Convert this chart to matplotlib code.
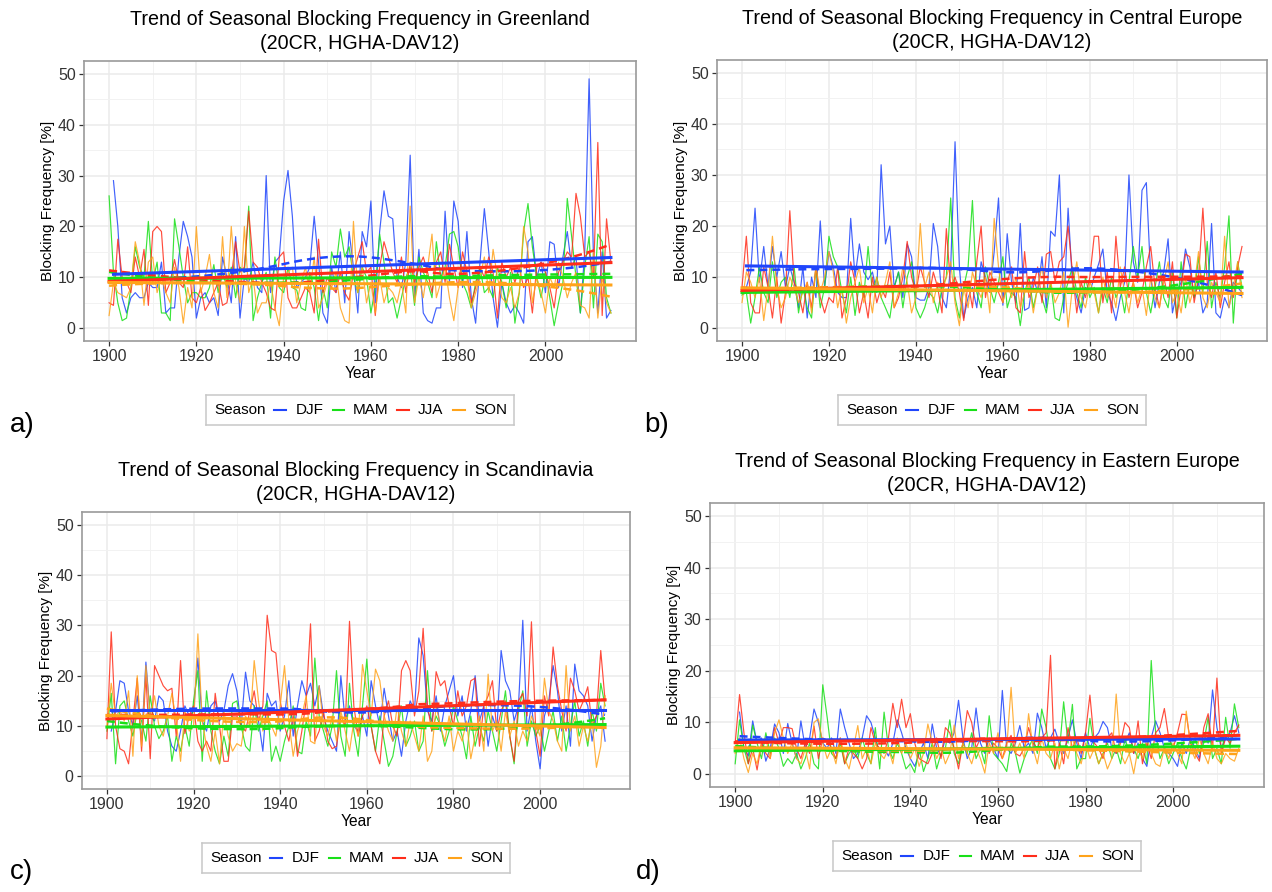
import numpy as np
import matplotlib
matplotlib.use('Agg')
import matplotlib.pyplot as plt

plt.rcParams['font.family'] = ['Liberation Sans', 'DejaVu Sans']

W, H = 1272, 892

years = np.arange(1900, 2016)
years_djf = np.arange(1901, 2016)

# ---- Greenland ----
greenland_djf = [29, 20, 6, 3, 6, 7, 6, 6, 9, 8,
                 8, 13, 3, 4, 4, 14, 21, 18, 14, 2,
                 6, 7, 5, 6, 2.5, 14, 10, 5, 18, 2,
                 10, 9, 13, 8, 7, 30, 7, 13, 14, 25,
                 31, 22, 8, 9, 10, 12, 22, 13, 3, 1,
                 12, 7, 15, 5, 19, 12, 3, 19, 16, 25,
                 5, 19, 27, 22, 21.5, 10, 8, 13, 34, 6,
                 15.5, 3, 1.5, 1, 4, 4, 23, 9, 25, 21,
                 8, 19, 6, 1, 13, 23.5, 15, 6, 0.2, 9,
                 5, 3, 4.5, 3, 1, 17, 18, 10, 13, 7,
                 17, 16.5, 8, 14, 19, 12, 14, 3, 15, 49,
                 14, 3, 15, 2, 3.5]
greenland_mam = [26, 11, 5, 1.5, 2, 8, 16, 12, 10, 21,
                 9, 13, 3, 3, 1.5, 21.5, 16, 10, 5, 7,
                 7, 6, 6, 8, 12.5, 7, 11, 8, 12, 6,
                 12, 11, 24, 1.5, 6, 9, 11, 2, 14, 8,
                 7, 12, 8, 7.5, 4, 3.5, 11, 8, 1.5, 8,
                 4, 15, 12, 19.5, 14, 16, 10, 7, 12, 10,
                 3, 8, 18.5, 13, 5, 6, 2, 6, 10, 12,
                 4.5, 14, 11, 9, 6, 17, 10, 12, 18.5, 19,
                 16, 9, 7, 4, 9, 12, 7, 8, 6, 12,
                 9, 4, 11, 1, 7, 19, 24.5, 16, 10, 6,
                 11, 6, 0.5, 5, 9, 25.5, 18, 10, 3, 12,
                 18, 4, 18.5, 17, 6, 3]
greenland_jja = [5, 4.5, 17.5, 10, 9, 7, 14, 10, 15.5, 4.5,
                 19, 20, 19, 7, 9, 13.5, 9, 8, 16, 6,
                 5, 8, 3.5, 5, 7, 9, 4.5, 5, 10, 17,
                 11, 12, 23, 13, 12, 9, 7, 4, 3.5, 14,
                 15, 6, 4, 4, 6, 8, 7, 3, 17.5, 7,
                 10, 8, 7, 11, 7, 5.5, 11, 14, 17, 11,
                 12, 2.5, 12, 17, 14, 11, 9, 14, 7, 13,
                 9, 12, 14, 11, 7, 13, 15, 9, 16.5, 12,
                 8, 15, 11, 5, 8, 12, 10, 14, 11, 2,
                 13, 10, 12, 9, 12, 8, 10, 3, 12, 13,
                 11, 8, 4, 11, 13, 15, 14, 26.5, 22, 14,
                 15, 10, 36.5, 2.5, 21.5, 13]
greenland_son = [2.5, 9, 7, 6.5, 6, 8, 17, 13, 4.5, 13,
                 14, 7, 10, 7, 5, 12, 8, 1, 8, 4,
                 20, 7, 10, 14.5, 7, 4, 18, 6, 20, 9,
                 5, 20, 7, 10, 3, 5, 5, 9, 4, 0.5,
                 10, 11, 12, 5, 9, 12, 7, 14, 4, 6,
                 9, 8, 11, 4, 1.5, 1, 21, 7, 12, 5,
                 9, 3, 10, 5, 8, 7, 5, 9, 3, 24,
                 5, 10, 6, 12, 18.5, 6, 9, 12, 6, 1.5,
                 8, 12, 10, 4, 7, 10, 14, 7, 15.5, 10,
                 6, 5, 8, 4, 7, 20, 15, 5, 10, 7,
                 3, 10, 8, 13, 10, 6, 9, 11, 4.5, 4,
                 2, 15, 2, 10, 5, 3]

# ---- Central Europe ----
central_djf = [8, 11, 23.5, 9, 16, 8, 16, 10, 15, 8,
               12, 9, 4, 12, 2, 10, 6, 21, 8, 15,
               12, 7, 6, 6, 21.5, 10, 16.5, 11, 9.5, 11,
               7, 32, 16.5, 20, 8, 11, 6, 16.5, 14, 6,
               5.5, 5.5, 8, 20.5, 16, 6, 4, 12, 36.5, 12,
               2, 6, 8, 4, 13, 10, 7, 15, 25.5, 4.5,
               18.5, 9, 5, 20.5, 3.5, 4, 10, 7, 14, 4,
               19, 18, 30, 3, 23.5, 9, 6, 3, 8, 7,
               10, 12.5, 15.5, 7, 5, 1.5, 6, 9, 30, 13,
               9, 27, 28.5, 10, 4, 9, 11, 17.5, 3, 7,
               9, 15.5, 12, 6, 9, 3, 5, 20.5, 3, 2,
               6, 4, 9, 8, 7]
central_mam = [6.5, 7, 1, 6, 12, 7, 5, 13, 6, 9,
               10, 6, 12, 3, 8, 4, 2, 12, 4, 8,
               18, 14, 12, 7, 3, 10, 2.5, 9, 6, 16,
               7, 10, 6, 4, 2, 8, 11, 4, 10, 13,
               4, 2, 4, 7, 6, 3, 8, 10, 25.5, 6,
               2, 8, 12, 25, 7, 4, 12, 8, 5, 9,
               14, 4, 7, 6, 0.5, 7, 10, 4, 8, 6,
               3, 9, 2, 1.5, 6, 9, 12, 7, 4, 10,
               6, 8, 3, 8, 5, 10, 6, 8, 3, 9,
               16, 10, 16, 7, 3, 8, 13, 6, 4, 11,
               2, 13, 4, 9, 6, 14, 7, 17, 4, 9,
               6, 12, 22, 1, 13, 8]
central_jja = [8, 18, 5, 3, 3, 12, 8, 2, 10, 1,
               7, 23, 9, 7, 3, 9, 4, 12, 6, 3,
               6, 5, 12, 2, 6, 13, 9, 3, 7, 2,
               10, 5, 8, 6, 11, 4, 6, 10, 17, 10,
               7, 12, 9, 6, 11, 8, 3, 19.5, 8, 10,
               7, 1.5, 9, 4, 13, 20, 6, 11, 9, 7,
               5, 9, 12, 4, 3, 15, 6, 8, 12, 5,
               14.5, 15, 9, 13, 14, 20, 11, 3, 9, 6,
               10, 18, 18, 5, 11, 3, 18, 8, 12, 6,
               9, 4, 7, 12, 16, 8, 4, 10, 6, 13,
               2, 8, 14.5, 14, 5, 10, 23.5, 9, 6, 11,
               4, 9, 13, 6, 12, 16]
central_son = [5, 11, 9, 6, 10, 1.5, 8, 18, 8, 4,
               6, 10, 8, 5, 7, 9, 3, 12, 7, 10,
               15, 11, 4, 8, 1, 6, 9, 12, 5, 8,
               3, 10, 6, 9, 13, 4, 7, 12, 9, 3,
               6, 20.5, 8, 11, 5, 9, 7, 10, 13, 5,
               0.5, 8, 4, 11, 8, 6, 10, 3, 21.5, 12,
               5, 9, 6, 10, 4, 7, 9, 3, 8, 12,
               6, 9, 5, 7, 11, 0.2, 8, 13, 6, 4,
               9, 7, 3, 10, 6, 8, 4, 12, 7, 3,
               9, 5, 8, 2.5, 10, 6, 4, 9, 13, 5,
               7, 3, 10, 5, 8, 15, 6, 4, 9, 7,
               5, 18, 4, 8, 13, 6]

# ---- Scandinavia ----
scand_djf = [9, 13, 19, 18.5, 13, 10, 16, 7, 22.7, 12,
             11, 16, 15, 9, 6, 5, 9, 14, 12, 13,
             23.5, 11, 9, 14, 15, 11, 13, 18, 20.4, 17,
             10, 20.7, 15, 14, 11, 5, 16.5, 14, 15, 9,
             12, 19, 8, 14, 19, 16, 18.5, 14, 18, 12,
             9, 7, 5, 20, 11, 14, 10, 9, 12, 8,
             19, 14, 10, 17.5, 12, 7, 9, 4, 11, 15,
             13, 27.5, 24, 13, 11, 16, 9, 14, 17, 20,
             12, 16, 9, 13, 20, 11, 14, 6, 12, 9,
             25, 19, 17, 11, 14, 31, 9, 14, 7, 1.5,
             12, 15, 22, 17, 9, 14, 6, 22.3, 17, 16,
             14, 7, 12, 14, 7]
scand_mam = [9, 16.5, 2.5, 14, 15, 11, 8, 13, 11, 7,
             16, 10, 7.5, 9, 12, 3, 8, 5, 10, 6,
             15, 21, 3, 17, 9, 5, 2.5, 8, 4, 14.5,
             15, 10, 6, 5, 14, 9, 12, 15, 3, 6,
             3, 7, 10, 14, 5, 4.5, 11, 8, 23.5, 12,
             9, 6, 10, 21, 8, 4, 18.5, 9, 4, 14,
             23.3, 10, 5, 12, 7, 2, 4, 9, 14, 6,
             8, 11, 5, 7, 21, 9, 12, 10, 6, 9,
             14, 11, 8, 3.5, 12, 6, 10, 7, 13, 9,
             5, 11, 17, 8, 2.5, 13, 17, 6, 11, 8,
             10, 5, 9, 13, 7, 12, 5, 10, 15, 8,
             11, 6, 13, 9, 18.5, 14]
scand_jja = [7.5, 28.7, 10, 5.5, 5, 2.5, 11, 19.5, 5, 20,
             3.5, 22, 20, 18, 17, 17.5, 8, 23, 8.5, 12,
             14, 7, 5, 7, 5, 16.5, 10, 3, 3, 12,
             12, 10, 9, 13, 17, 11, 14, 32, 25, 24.5,
             15, 10, 7, 12, 4, 9, 15, 30.3, 7, 9,
             13, 7, 5.5, 6, 12, 10, 30.8, 14, 8, 12,
             14, 10, 5, 2.5, 12, 15, 10, 8, 21, 23,
             21, 12, 17, 29.4, 14, 9, 20.8, 18, 19, 14,
             10, 17, 12, 14, 19, 19.5, 6, 14, 16, 19,
             9, 13, 15, 8, 3, 15, 16.5, 12, 30.7, 9,
             4, 16, 12, 25.7, 18, 13, 9, 19.5, 17, 13,
             15, 17.8, 10, 12, 25, 15]
scand_son = [10, 18.5, 12, 13, 11, 17, 4, 20, 6, 22,
             12, 16, 10, 8, 12, 16.5, 11, 3, 13, 9,
             10, 28.3, 11, 6, 3, 9, 2.5, 13, 8, 5,
             6.5, 6, 12, 10, 23, 15, 9, 12, 10, 8,
             14, 22, 11, 4, 9, 12, 16, 7, 6.5, 18,
             10, 8, 12, 7, 13, 9, 5, 11, 8, 22.2,
             17, 12, 21.3, 19, 12, 9, 7, 14, 9, 6,
             11, 8, 5, 12, 3, 5, 14, 10, 7, 12,
             5, 9, 7, 11, 3.5, 8, 12, 5, 20.3, 9,
             11, 5, 13, 8, 11, 6, 9, 7, 12, 10,
             8, 19.5, 13, 11, 7, 5, 22, 9, 12, 6,
             10, 7, 11, 1.8, 6, 16]

# ---- Eastern Europe ----
eastern_djf = [12, 5, 3.5, 10.3, 6, 7, 2.5, 5, 9.7, 8,
               4, 9.8, 6, 3, 10.3, 5, 7, 12.6, 10, 6,
               5, 7, 4, 12.6, 9, 6, 3, 4, 7, 11.3,
               10, 7, 4, 5, 3.5, 6, 10.5, 8, 5, 3,
               1.5, 4, 6, 3, 9.7, 5, 3.5, 7, 6, 8,
               14.3, 7, 3, 5, 12.8, 6, 4, 7, 5, 3,
               16.2, 5, 4, 6, 9.4, 5, 6, 4, 11.8, 9,
               5, 7, 8.7, 6, 4, 7, 10.5, 6, 3, 8,
               5, 7, 8, 10.2, 9, 5, 4, 7, 6, 8,
               4, 6, 3, 1.5, 7, 10.3, 8, 5, 4, 3,
               1.5, 6, 4, 7, 5, 3, 8, 6, 16.3, 9,
               5, 7, 8, 11.3, 8]
eastern_mam = [2, 10.5, 5, 2, 9.5, 6, 3, 8, 4, 7,
               5, 1.5, 3, 2, 4, 1, 3, 6, 2, 1,
               17.3, 11, 4, 3, 6, 2, 4, 5, 3, 7,
               4, 2, 9, 1, 12, 5, 3, 6, 4, 1,
               2, 0.3, 5, 0.5, 3, 6, 1, 4, 5, 10.5,
               4, 2, 6, 4, 8, 3, 5, 2, 11.3, 4,
               3, 2, 0.5, 6, 4, 0.2, 3, 5, 7, 4,
               12.6, 9, 3, 1, 4, 14, 6, 13.5, 1, 3,
               3, 10.8, 5, 2, 4, 6, 3, 5, 2, 7,
               4, 5, 3, 6, 2, 22, 8, 3, 5, 2,
               4, 6, 3, 1, 5, 7, 4, 6, 11, 3,
               5, 2, 11, 5, 13.6, 9]
eastern_jja = [6, 15.4, 8, 2, 5, 0.8, 6, 4, 3, 9,
               6, 9, 9, 8.8, 5, 3, 6, 4, 9.3, 3,
               7, 6.5, 5, 3, 7, 2, 5, 4, 3, 1,
               3, 9, 6, 5, 4, 7, 13.7, 9, 14.5, 9,
               11.7, 6, 3, 2.5, 2, 4, 7, 3, 9, 8,
               5, 1, 6, 12.3, 10, 5, 7, 7, 4, 6,
               5, 3, 6, 7.5, 4, 3.5, 5, 9, 6, 5,
               7, 8, 23, 1, 6, 2, 9, 5, 7, 4,
               8, 15.3, 6, 5, 3, 7, 8, 4, 6, 10,
               9, 4, 10.3, 2, 6, 3, 8, 9, 12.7, 7,
               5, 8, 11.6, 11.5, 6, 4, 2.5, 9, 11.7, 5,
               18.6, 4, 7, 6, 8, 9.5]
eastern_son = [4, 7, 3, 0.3, 4, 2, 6, 7, 3, 8,
               10.5, 7, 4, 6, 3, 2, 5, 1, 10, 10.7,
               6, 3, 5, 2, 7, 3, 1, 5, 9.4, 3,
               5, 2, 6, 4, 3, 5, 2, 7, 4, 6,
               3, 5, 1.5, 4, 9.7, 6, 3, 5, 2, 4,
               9.5, 3, 6, 4, 2, 5, 3, 0.2, 6, 4,
               8, 3, 5, 16.8, 4, 6, 3, 11.7, 5, 2,
               7, 4, 3, 6, 1, 5, 3, 7, 4, 2,
               6, 3, 5, 2, 4, 1, 3, 15.5, 4, 2,
               4, 0.1, 5, 3, 7, 4, 2, 1.5, 5, 3,
               6, 4, 2, 12.2, 5, 3, 7, 4, 2, 6,
               3, 2, 4, 3, 2.5, 5]

# linear trend end points (first year, 2015)
greenland_trend = {'DJF': (10.6, 13.9), 'MAM': (9.8, 10.0), 'JJA': (9.2, 12.9), 'SON': (9.0, 8.5)}
central_trend = {'DJF': (12.2, 11.0), 'MAM': (7.0, 8.0), 'JJA': (7.4, 9.9), 'SON': (7.9, 6.8)}
scand_trend = {'DJF': (13.1, 13.1), 'MAM': (9.8, 10.3), 'JJA': (11.4, 15.2), 'SON': (12.1, 9.7)}
eastern_trend = {'DJF': (6.6, 6.8), 'MAM': (4.5, 5.4), 'JJA': (6.1, 7.5), 'SON': (5.1, 4.6)}

seasons = ['DJF', 'MAM', 'JJA', 'SON']
colors = {'DJF': '#1f45fc', 'MAM': '#18e018', 'JJA': '#ff2d1a', 'SON': '#ffa31a'}

regions = [
    ('Greenland', [greenland_djf, greenland_mam, greenland_jja, greenland_son], greenland_trend),
    ('Central Europe', [central_djf, central_mam, central_jja, central_son], central_trend),
    ('Scandinavia', [scand_djf, scand_mam, scand_jja, scand_son], scand_trend),
    ('Eastern Europe', [eastern_djf, eastern_mam, eastern_jja, eastern_son], eastern_trend),
]

# panel boxes in pixels: left, top, right, bottom
boxes = [(84, 61, 636, 341), (717, 60, 1267, 341), (82, 512, 630, 789), (710, 503, 1264, 787)]
letters = [('a)', 10, 425), ('b)', 644, 425), ('c)', 10, 872), ('d)', 636, 872)]


def loess(x, y, span=0.75):
    x = np.asarray(x, float)
    y = np.asarray(y, float)
    q = int(np.floor(span * len(x)))
    out = np.empty(len(x))
    for i, x0 in enumerate(x):
        d = np.abs(x - x0)
        h = np.sort(d)[q - 1]
        w = np.clip(1 - (d / h) ** 3, 0, None) ** 3
        c = np.polyfit(x - x0, y, 2, w=np.sqrt(w))
        out[i] = c[-1]
    return out


fig = plt.figure(figsize=(W / 100, H / 100), dpi=100)

for (name, series, trend), (l, t, r, b) in zip(regions, boxes):
    ax = fig.add_axes([l / W, 1 - b / H, (r - l) / W, (b - t) / H])
    for s, vals in zip(seasons, series):
        x = years_djf if s == 'DJF' else years
        assert len(vals) == len(x), (name, s, len(vals))
        ax.plot(x, vals, color=colors[s], lw=0.85, alpha=0.85, zorder=2)
    for s, vals in zip(seasons, series):
        x = years_djf if s == 'DJF' else years
        ax.plot(x, loess(x, vals), color=colors[s], lw=1.8, ls='--', dashes=(3.2, 2.0), zorder=3)
        ax.plot([x[0], x[-1]], trend[s], color=colors[s], lw=2.2, zorder=4)

    ax.set_xlim(1894.25, 2020.75)
    ax.set_ylim(-2.5, 52.5)
    ax.set_xticks(np.arange(1900, 2001, 20))
    ax.set_xticks(np.arange(1910, 2020, 20), minor=True)
    ax.set_yticks(np.arange(0, 51, 10))
    ax.set_yticks(np.arange(5, 50, 10), minor=True)
    ax.grid(which='major', color='#EBEBEB', lw=1.1)
    ax.grid(which='minor', color='#F2F2F2', lw=0.7)
    ax.set_axisbelow(True)
    ax.tick_params(which='major', length=3.5, width=0.9, color='#333333',
                   labelcolor='#333333', labelsize=11.5, pad=2.5)
    ax.tick_params(which='minor', length=0)
    for sp in ax.spines.values():
        sp.set_color('#9A9A9A')
        sp.set_linewidth(1.2)

    ax.set_title('Trend of Seasonal Blocking Frequency in ' + name + '\n(20CR, HGHA-DAV12)',
                 fontsize=14.2, linespacing=1.32, pad=8.5)
    ax.set_xlabel('Year', fontsize=11.2)
    ax.set_ylabel('Blocking Frequency [%]', fontsize=11)
    ax.xaxis.set_label_coords(0.5, -25 / (b - t))
    ax.yaxis.set_label_coords(-29 / (r - l), 0.5)

    # legend box centred under the panel
    lw_px, lh_px = 308, 30
    ll = (l + r) / 2 - lw_px / 2
    lt = b + 54
    lax = fig.add_axes([ll / W, 1 - (lt + lh_px) / H, lw_px / W, lh_px / H])
    lax.set_xlim(0, lw_px)
    lax.set_ylim(0, lh_px)
    lax.set_xticks([])
    lax.set_yticks([])
    for sp in lax.spines.values():
        sp.set_color('#C8C8C8')
        sp.set_linewidth(1.1)
    lax.text(8, 15, 'Season', fontsize=11, va='center', ha='left')
    keys = [(68, 80, 90), (127, 138, 147), (191, 203, 212), (247, 259, 268)]
    for s, (k0, k1, tx) in zip(seasons, keys):
        lax.plot([k0, k1], [15, 15], color=colors[s], lw=1.5)
        lax.text(tx, 15, s, fontsize=11, va='center', ha='left')

for lab, x, y in letters:
    fig.text(x / W, 1 - y / H, lab, fontsize=20, va='center', ha='left')

fig.savefig('out.png', dpi=100)
